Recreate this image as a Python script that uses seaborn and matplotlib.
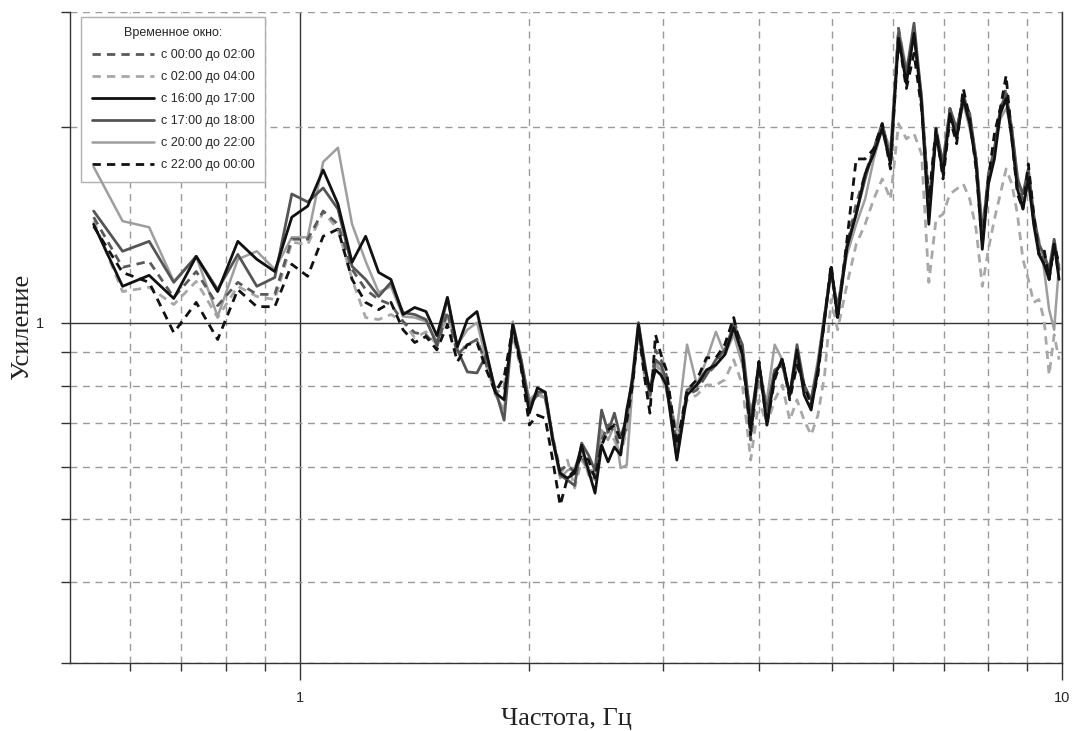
import matplotlib
matplotlib.use("Agg")
import matplotlib.pyplot as plt
import seaborn as sns
import numpy as np
import pandas as pd
from matplotlib.ticker import FixedLocator, NullFormatter

# ---------------- data ----------------
freq = [0.537, 0.586, 0.635, 0.684, 0.732, 0.781, 0.830, 0.879, 0.928, 0.977,
        1.025, 1.074, 1.123, 1.172, 1.221, 1.270, 1.318, 1.367, 1.416, 1.465,
        1.514, 1.563, 1.611, 1.660, 1.709, 1.758, 1.807, 1.855, 1.904, 1.953,
        2.002, 2.051, 2.100, 2.148, 2.197, 2.246, 2.295, 2.344, 2.393, 2.441,
        2.490, 2.539, 2.588, 2.637, 2.686, 2.734, 2.783, 2.832, 2.881, 2.930,
        2.979, 3.027, 3.125, 3.223, 3.320, 3.418, 3.516, 3.613, 3.711, 3.809,
        3.906, 4.004, 4.102, 4.199, 4.297, 4.395, 4.492, 4.590, 4.688, 4.785,
        4.883, 4.980, 5.078, 5.225, 5.371, 5.518, 5.664, 5.811, 5.957, 6.104,
        6.250, 6.396, 6.543, 6.689, 6.836, 6.982, 7.129, 7.275, 7.422, 7.568,
        7.715, 7.861, 8.008, 8.154, 8.301, 8.447, 8.594, 8.740, 8.887, 9.033,
        9.180, 9.326, 9.473, 9.619, 9.766, 9.912]

gain_00_02 = [1.452, 1.216, 1.242, 1.093, 1.198, 1.062, 1.153, 1.105, 1.105, 1.343,
              1.343, 1.484, 1.416, 1.207, 1.124, 1.085, 1.066, 1.004, 0.965, 0.958,
              0.918, 1.040, 0.893, 0.925, 0.942, 0.861, 0.782, 0.788, 0.975, 0.861,
              0.747, 0.774, 0.766, 0.667, 0.593, 0.604, 0.589, 0.626, 0.593, 0.583,
              0.660, 0.696, 0.679, 0.637, 0.696, 0.817, 0.975, 0.846, 0.774, 0.908,
              0.877, 0.831, 0.648, 0.774, 0.788, 0.831, 0.861, 0.925, 1.011, 0.908,
              0.660, 0.846, 0.721, 0.846, 0.861, 0.774, 0.877, 0.802, 0.747, 0.846,
              1.011, 1.207, 1.029, 1.319, 1.521, 1.692, 1.849, 2.021, 1.784, 2.833,
              2.371, 2.833, 2.170, 1.468, 1.951, 1.722, 2.132, 1.951, 2.248, 2.058,
              1.784, 1.343, 1.662, 1.849, 2.132, 2.289, 1.951, 1.633, 1.548, 1.692,
              1.442, 1.296, 1.251, 1.186, 1.296, 1.186]

gain_02_04 = [1.432, 1.116, 1.133, 1.066, 1.157, 1.018, 1.137, 1.097, 1.085, 1.329,
              1.319, 1.478, 1.392, 1.165, 1.018, 1.011, 1.029, 1.004, 0.948, 0.968,
              0.925, 1.029, 0.902, 0.925, 0.942, 0.861, 0.774, 0.802, 0.958, 0.846,
              0.761, 0.774, 0.766, 0.660, 0.583, 0.615, 0.557, 0.615, 0.593, 0.593,
              0.648, 0.684, 0.660, 0.626, 0.684, 0.802, 0.975, 0.831, 0.780, 0.877,
              0.831, 0.788, 0.660, 0.761, 0.774, 0.802, 0.802, 0.817, 0.877, 0.802,
              0.615, 0.761, 0.696, 0.761, 0.802, 0.708, 0.761, 0.708, 0.672, 0.721,
              0.831, 1.085, 0.975, 1.145, 1.319, 1.416, 1.548, 1.662, 1.548, 2.021,
              1.916, 1.951, 1.817, 1.153, 1.442, 1.468, 1.576, 1.604, 1.633, 1.548,
              1.392, 1.137, 1.296, 1.442, 1.576, 1.722, 1.633, 1.468, 1.251, 1.165,
              1.074, 1.085, 1.011, 0.831, 0.958, 0.877]

gain_16_17 = [1.416, 1.137, 1.182, 1.089, 1.264, 1.116, 1.333, 1.251, 1.198, 1.452,
              1.510, 1.716, 1.521, 1.238, 1.357, 1.194, 1.165, 1.029, 1.055, 1.040,
              0.955, 1.093, 0.918, 1.011, 1.040, 0.902, 0.780, 0.761, 0.993, 0.861,
              0.726, 0.794, 0.782, 0.660, 0.587, 0.577, 0.587, 0.648, 0.593, 0.547,
              0.648, 0.611, 0.644, 0.626, 0.734, 0.817, 0.993, 0.861, 0.788, 0.846,
              0.831, 0.802, 0.615, 0.774, 0.802, 0.846, 0.861, 0.893, 0.982, 0.893,
              0.684, 0.871, 0.696, 0.831, 0.877, 0.774, 0.908, 0.774, 0.734, 0.846,
              1.011, 1.216, 1.018, 1.305, 1.468, 1.692, 1.817, 1.986, 1.753, 2.734,
              2.330, 2.783, 2.170, 1.416, 1.951, 1.692, 2.094, 1.916, 2.209, 2.021,
              1.753, 1.296, 1.633, 1.784, 2.094, 2.209, 1.916, 1.604, 1.494, 1.662,
              1.416, 1.273, 1.229, 1.165, 1.319, 1.165]

gain_17_18 = [1.484, 1.287, 1.333, 1.153, 1.264, 1.124, 1.273, 1.137, 1.173, 1.576,
              1.532, 1.610, 1.494, 1.220, 1.165, 1.097, 1.153, 1.036, 1.029, 1.011,
              0.925, 1.093, 0.908, 0.840, 0.837, 0.893, 0.788, 0.708, 0.993, 0.877,
              0.747, 0.782, 0.782, 0.667, 0.583, 0.573, 0.562, 0.653, 0.626, 0.593,
              0.734, 0.679, 0.726, 0.665, 0.716, 0.831, 1.000, 0.877, 0.774, 0.877,
              0.861, 0.817, 0.619, 0.788, 0.802, 0.831, 0.877, 0.908, 0.993, 0.925,
              0.708, 0.861, 0.734, 0.846, 0.861, 0.774, 0.925, 0.802, 0.761, 0.861,
              1.029, 1.207, 1.047, 1.319, 1.468, 1.662, 1.849, 2.021, 1.784, 2.783,
              2.414, 2.884, 2.209, 1.494, 1.986, 1.753, 2.132, 1.986, 2.209, 2.094,
              1.784, 1.367, 1.692, 1.849, 2.132, 2.248, 1.986, 1.662, 1.576, 1.722,
              1.468, 1.319, 1.273, 1.207, 1.343, 1.207]

gain_20_22 = [1.735, 1.432, 1.401, 1.157, 1.264, 1.022, 1.251, 1.287, 1.207, 1.352,
              1.352, 1.765, 1.856, 1.416, 1.242, 1.113, 1.137, 1.022, 1.018, 1.004,
              0.935, 1.029, 0.925, 0.975, 1.000, 0.877, 0.774, 0.734, 1.004, 0.877,
              0.761, 0.782, 0.766, 0.660, 0.577, 0.593, 0.598, 0.637, 0.583, 0.573,
              0.684, 0.660, 0.696, 0.598, 0.604, 0.802, 0.993, 0.861, 0.766, 0.861,
              0.846, 0.788, 0.684, 0.925, 0.802, 0.877, 0.968, 0.893, 0.958, 0.861,
              0.734, 0.802, 0.761, 0.925, 0.877, 0.774, 0.861, 0.802, 0.761, 0.877,
              1.029, 1.186, 1.066, 1.273, 1.416, 1.548, 1.784, 1.986, 1.849, 2.833,
              2.457, 2.734, 2.248, 1.548, 1.916, 1.784, 2.094, 1.951, 2.170, 1.986,
              1.784, 1.416, 1.633, 1.849, 2.058, 2.132, 1.986, 1.692, 1.521, 1.633,
              1.442, 1.343, 1.207, 1.047, 0.975, 1.229]

gain_22_00 = [1.406, 1.194, 1.153, 0.965, 1.074, 0.942, 1.124, 1.058, 1.058, 1.229,
              1.178, 1.357, 1.392, 1.165, 1.074, 1.047, 1.074, 0.975, 0.932, 0.952,
              0.908, 0.993, 0.871, 0.925, 0.932, 0.846, 0.782, 0.825, 0.982, 0.852,
              0.696, 0.721, 0.713, 0.615, 0.524, 0.577, 0.593, 0.626, 0.615, 0.577,
              0.648, 0.684, 0.696, 0.660, 0.708, 0.802, 0.982, 0.831, 0.726, 0.958,
              0.893, 0.846, 0.648, 0.788, 0.817, 0.883, 0.883, 0.925, 1.018, 0.893,
              0.672, 0.871, 0.696, 0.817, 0.883, 0.761, 0.861, 0.802, 0.747, 0.831,
              1.018, 1.229, 1.011, 1.343, 1.784, 1.784, 1.849, 2.021, 1.722, 2.734,
              2.289, 2.592, 2.132, 1.548, 1.986, 1.662, 2.058, 1.883, 2.289, 2.058,
              1.722, 1.319, 1.662, 1.951, 2.132, 2.397, 1.916, 1.576, 1.494, 1.753,
              1.468, 1.273, 1.296, 1.165, 1.319, 1.229]

labels = ["с 00:00 до 02:00", "с 02:00 до 04:00", "с 16:00 до 17:00",
          "с 17:00 до 18:00", "с 20:00 до 22:00", "с 22:00 до 00:00"]
series = [gain_00_02, gain_02_04, gain_16_17, gain_17_18, gain_20_22, gain_22_00]

x_minor = [0.6, 0.7, 0.8, 0.9, 2, 3, 4, 5, 6, 7, 8, 9]
y_minor = [0.3, 0.4, 0.5, 0.6, 0.7, 0.8, 0.9, 2, 3]

# ---------------- styling ----------------
dash = (0, (3.0, 2.2))
styles = [
    dict(color="#5a5a5a", linestyle=dash, linewidth=2.0, zorder=4),
    dict(color="#a8a8a8", linestyle=dash, linewidth=2.0, zorder=3),
    dict(color="#111111", linestyle="-", linewidth=2.0, zorder=7),
    dict(color="#555555", linestyle="-", linewidth=2.0, zorder=5),
    dict(color="#9e9e9e", linestyle="-", linewidth=1.8, zorder=3.5),
    dict(color="#111111", linestyle=dash, linewidth=2.0, zorder=6),
]

sns.set_theme(style="ticks")
plt.rcParams["font.family"] = ["Liberation Sans", "DejaVu Sans"]

fig = plt.figure(figsize=(10.73, 7.31), dpi=100)
ax = fig.add_axes([70 / 1073, 68 / 731, 992 / 1073, 651 / 731])
ax.set_xscale("log")
ax.set_yscale("log")

handles = []
for lab, vals, st in zip(labels, series, styles):
    df = pd.DataFrame({"freq": freq, "gain": vals})
    sns.lineplot(data=df, x="freq", y="gain", ax=ax, sort=False,
                 estimator=None, label=lab, **st)
    handles.append(ax.lines[-1])

ax.set_xlim(0.5, 10)
ax.set_ylim(0.3, 3)

ax.set_xticks([1, 10])
ax.set_xticklabels(["1", "10"])
ax.xaxis.set_minor_locator(FixedLocator(x_minor))
ax.xaxis.set_minor_formatter(NullFormatter())
ax.set_yticks([1])
ax.set_yticklabels(["1"])
ax.yaxis.set_minor_locator(FixedLocator(y_minor))
ax.yaxis.set_minor_formatter(NullFormatter())

ax.tick_params(axis="x", which="major", length=12, width=1, color="#333333",
               direction="out", labelsize=10.5, pad=8, bottom=True)
ax.tick_params(axis="x", which="minor", length=6, width=1, color="#333333",
               direction="out", bottom=True)
ax.tick_params(axis="y", which="both", length=6.5, width=1, color="#333333",
               direction="out", labelsize=10.5, pad=12, left=True)

ax.set_axisbelow(True)
ax.grid(True, which="minor", color="#9a9a9a", linestyle=(0, (5, 4)), linewidth=1.0)
ax.grid(True, which="major", color="#333333", linestyle="-", linewidth=1.0)

for side in ["left", "bottom", "right"]:
    ax.spines[side].set_color("#333333")
    ax.spines[side].set_linewidth(1.0)
ax.spines["top"].set_visible(False)

ax.set_xlabel("Частота, Гц", fontfamily="Liberation Serif", fontsize=19,
              color="#222222", labelpad=2)
ax.set_ylabel("Усиление", fontfamily="Liberation Serif", fontsize=19,
              color="#222222")
ax.yaxis.set_label_coords(-0.037, 0.516)

leg = ax.legend(handles=handles, labels=labels, title="Временное окно:",
                loc="upper left", bbox_to_anchor=(0.011, 0.993), borderaxespad=0,
                fontsize=9, title_fontsize=9, handlelength=5.0, handletextpad=0.55,
                labelspacing=0.8, frameon=True, fancybox=False,
                edgecolor="#b0b0b0", facecolor="white", framealpha=1,
                borderpad=0.85)
leg.get_frame().set_linewidth(1.0)
leg.set_zorder(2.5)

fig.savefig("out.png", dpi=100)
